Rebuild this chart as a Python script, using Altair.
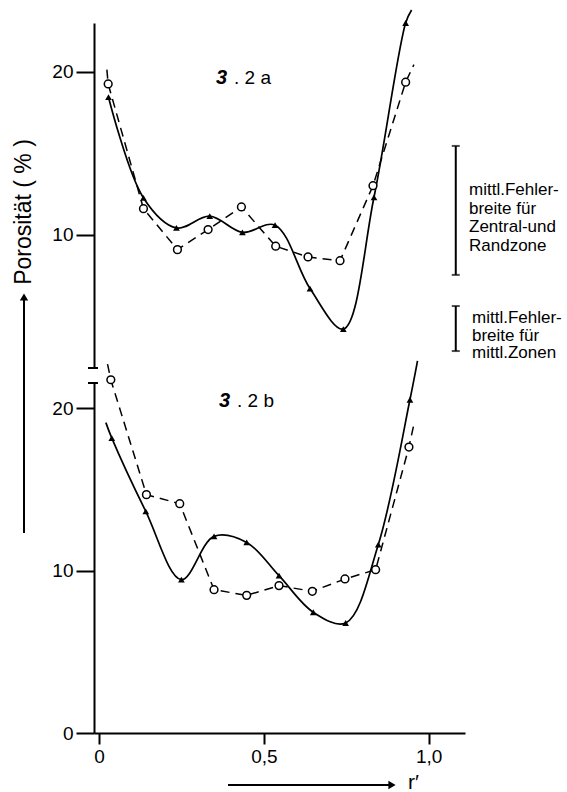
import altair as alt
import pandas as pd

FONT = "Liberation Sans"

# ---------------- values ----------------
# Panel 3.2 a  (open circles, dashed line)
a_circle_r = [0.028, 0.135, 0.238, 0.331, 0.432, 0.536, 0.634, 0.731, 0.831, 0.930]
a_circle_v = [19.26, 11.61, 9.10, 10.33, 11.72, 9.31, 8.65, 8.42, 13.02, 19.37]
a_circle_start = (0.024, 20.14)
a_circle_end = (0.955, 20.45)
# Panel 3.2 a  (filled triangles, solid line)
a_tri_r = [0.029, 0.135, 0.235, 0.336, 0.435, 0.534, 0.640, 0.741, 0.834, 0.930]
a_tri_v = [18.45, 12.27, 10.43, 11.15, 10.16, 10.60, 6.71, 4.23, 12.31, 23.0]
a_tri_end = (0.948, 23.8)

# Panel 3.2 b  (open circles, dashed line)
b_circle_r = [0.036, 0.144, 0.245, 0.349, 0.448, 0.546, 0.647, 0.746, 0.839, 0.940]
b_circle_v = [21.74, 14.67, 14.11, 8.82, 8.47, 9.07, 8.72, 9.48, 10.05, 17.60]
b_circle_start = (0.026, 22.7)
b_circle_end = (0.955, 19.0)
# Panel 3.2 b  (filled triangles, solid line)
b_tri_r = [0.039, 0.142, 0.250, 0.349, 0.448, 0.546, 0.650, 0.748, 0.847, 0.943]
b_tri_v = [18.15, 13.64, 9.44, 12.10, 11.73, 9.68, 7.43, 6.77, 11.59, 20.51]
b_tri_start = (0.021, 19.1)
b_tri_end = (0.966, 22.9)

# mean error widths (drawn in panel a units)
err_r = [1.082, 1.082]
err_lo = [7.55, 2.88]
err_hi = [15.46, 5.64]
err_text_1 = ["mittl.Fehler-", "breite  für", "Zentral-und", "Randzone"]
err_text_2 = ["mittl.Fehler-", "breite  für", "mittl.Zonen"]

x_ticks = [0, 0.5, 1.0]
y_ticks_a = [10, 20]
y_ticks_b = [0, 10, 20]
y_domain_a = [1.84, 23.0]
y_domain_b = [0, 21.54]
x_domain = [-0.015, 1.11]

y_title = "Porosität ( % )"
x_title = "r′"


def series(rs, vs, start=None, end=None):
    pts = list(zip(rs, vs))
    if start:
        pts = [start] + pts
    if end:
        pts = pts + [end]
    return pd.DataFrame(pts, columns=["r", "v"])


def markers(rs, vs):
    return pd.DataFrame({"r": rs, "v": vs})


dummy = pd.DataFrame({"d": [0]})
xscale = alt.Scale(domain=x_domain, nice=False, zero=False)

W = 371
HA = 345
HB = 350


def y_axis(values):
    return alt.Axis(values=values, title=None, grid=False, tickSize=18, labelPadding=3,
                    labelFontSize=19, labelFont=FONT, labelColor="black",
                    domainColor="black", tickColor="black", domainWidth=2, tickWidth=2,
                    format="d")


x_axis_b = alt.Axis(values=x_ticks, title=None, grid=False, tickSize=11, labelPadding=3,
                    labelFontSize=19, labelFont=FONT, labelColor="black", domainColor="black",
                    tickColor="black", domainWidth=2, tickWidth=2,
                    labelExpr="datum.value == 0 ? '0' : replace(format(datum.value, '.1f'), '.', ',')")


def panel_layers(circ_line, circ_pts, tri_line, tri_pts, ysc, yaxis, xaxis):
    X = alt.X("r:Q", scale=xscale, axis=xaxis)
    Y = alt.Y("v:Q", scale=ysc, axis=yaxis)
    dash = alt.Chart(circ_line).mark_line(color="black", strokeWidth=1.5,
                                          strokeDash=[9, 6]).encode(x=X, y=Y)
    solid = alt.Chart(tri_line).mark_line(color="black", strokeWidth=1.7,
                                          interpolate="catmull-rom").encode(x=X, y=Y)
    circ = alt.Chart(circ_pts).mark_point(shape="circle", filled=True, fill="white",
                                          stroke="black", strokeWidth=1.5, size=60,
                                          opacity=1).encode(x=X, y=Y)
    tri = alt.Chart(tri_pts).mark_point(shape="triangle-up", filled=True, color="black",
                                        size=45, opacity=1).encode(x=X, y=Y)
    return [dash, solid, circ, tri]


# ---------------- panel a ----------------
ysc_a = alt.Scale(domain=y_domain_a, nice=False, zero=False)
yax_a = y_axis(y_ticks_a)
layers_a = panel_layers(
    series(a_circle_r, a_circle_v, a_circle_start, a_circle_end), markers(a_circle_r, a_circle_v),
    series(a_tri_r, a_tri_v, None, a_tri_end), markers(a_tri_r, a_tri_v),
    ysc_a, yax_a, None)

err_df = pd.DataFrame({"r": err_r, "v": err_lo, "hi": err_hi})
XA = alt.X("r:Q", scale=xscale, axis=None)
YA = alt.Y("v:Q", scale=ysc_a, axis=yax_a)
err_rule = alt.Chart(err_df).mark_rule(color="black", strokeWidth=2).encode(
    x=XA, y=YA, y2="hi:Q")
err_cap_lo = alt.Chart(err_df).mark_tick(orient="horizontal", color="black", size=8,
                                         thickness=2).encode(x=XA, y=YA)
err_cap_hi = alt.Chart(err_df).transform_calculate(v="datum.hi").mark_tick(
    orient="horizontal", color="black", size=8, thickness=2).encode(x=XA, y=YA)

txt1 = alt.Chart(dummy).mark_text(align="left", baseline="top", font=FONT, fontSize=17,
                                  lineBreak="\n", lineHeight=18.5, color="black").encode(
    x=alt.value(375), y=alt.value(159), text=alt.value("\n".join(err_text_1)))
txt2 = alt.Chart(dummy).mark_text(align="left", baseline="top", font=FONT, fontSize=17,
                                  lineBreak="\n", lineHeight=17.5, color="black").encode(
    x=alt.value(378), y=alt.value(287), text=alt.value("\n".join(err_text_2)))

lab_a3 = alt.Chart(dummy).mark_text(align="left", baseline="middle", font=FONT, fontSize=20,
                                    fontWeight="bold", fontStyle="italic", color="black").encode(
    x=alt.value(122), y=alt.value(55), text=alt.value("3"))
lab_a = alt.Chart(dummy).mark_text(align="left", baseline="middle", font=FONT, fontSize=19,
                                   color="black").encode(
    x=alt.value(140), y=alt.value(55), text=alt.value(".  2  a"))

brk_a = alt.Chart(dummy).mark_rule(color="black", strokeWidth=2).encode(
    x=alt.value(-6), x2=alt.value(4), y=alt.value(HA))

yarrow = alt.Chart(dummy).mark_rule(color="black", strokeWidth=2).encode(
    x=alt.value(-70), y=alt.value(272), y2=alt.value(510))
yarrow_head = alt.Chart(dummy).mark_point(shape="triangle-up", filled=True, color="black",
                                          size=70, opacity=1).encode(
    x=alt.value(-70), y=alt.value(274))
ytitle = alt.Chart(dummy).mark_text(angle=270, align="center", baseline="middle", font=FONT,
                                    fontSize=23, color="black").encode(
    x=alt.value(-70), y=alt.value(189), text=alt.value(y_title))

upper = alt.layer(*layers_a, err_rule, err_cap_lo, err_cap_hi, txt1, txt2, lab_a3, lab_a,
                  brk_a, yarrow, yarrow_head, ytitle).properties(width=W, height=HA)

# ---------------- panel b ----------------
ysc_b = alt.Scale(domain=y_domain_b, nice=False, zero=False)
layers_b = panel_layers(
    series(b_circle_r, b_circle_v, b_circle_start, b_circle_end), markers(b_circle_r, b_circle_v),
    series(b_tri_r, b_tri_v, b_tri_start, b_tri_end), markers(b_tri_r, b_tri_v),
    ysc_b, y_axis(y_ticks_b), x_axis_b)

lab_b3 = alt.Chart(dummy).mark_text(align="left", baseline="middle", font=FONT, fontSize=20,
                                    fontWeight="bold", fontStyle="italic", color="black").encode(
    x=alt.value(125), y=alt.value(18), text=alt.value("3"))
lab_b = alt.Chart(dummy).mark_text(align="left", baseline="middle", font=FONT, fontSize=19,
                                   color="black").encode(
    x=alt.value(143), y=alt.value(18), text=alt.value(".  2  b"))
brk_b = alt.Chart(dummy).mark_rule(color="black", strokeWidth=2).encode(
    x=alt.value(-6), x2=alt.value(4), y=alt.value(0))

xarrow = alt.Chart(dummy).mark_rule(color="black", strokeWidth=2).encode(
    x=alt.value(134), x2=alt.value(298), y=alt.value(402))
xarrow_head = alt.Chart(dummy).mark_point(shape="triangle-right", filled=True, color="black",
                                          size=70, opacity=1).encode(
    x=alt.value(298), y=alt.value(402))
xtitle = alt.Chart(dummy).mark_text(align="left", baseline="middle", font=FONT, fontSize=21,
                                    color="black").encode(
    x=alt.value(314), y=alt.value(400), text=alt.value(x_title))

lower = alt.layer(*layers_b, lab_b3, lab_b, brk_b, xarrow, xarrow_head, xtitle).properties(
    width=W, height=HB)

chart = alt.vconcat(upper, lower, spacing=15, bounds="flush").properties(
    padding={"left": 13, "top": 6, "right": 0, "bottom": 0}
).configure(font=FONT, background="white").configure_view(stroke=None)

chart.save("out.html", embed_options={"renderer": "svg", "actions": False})
